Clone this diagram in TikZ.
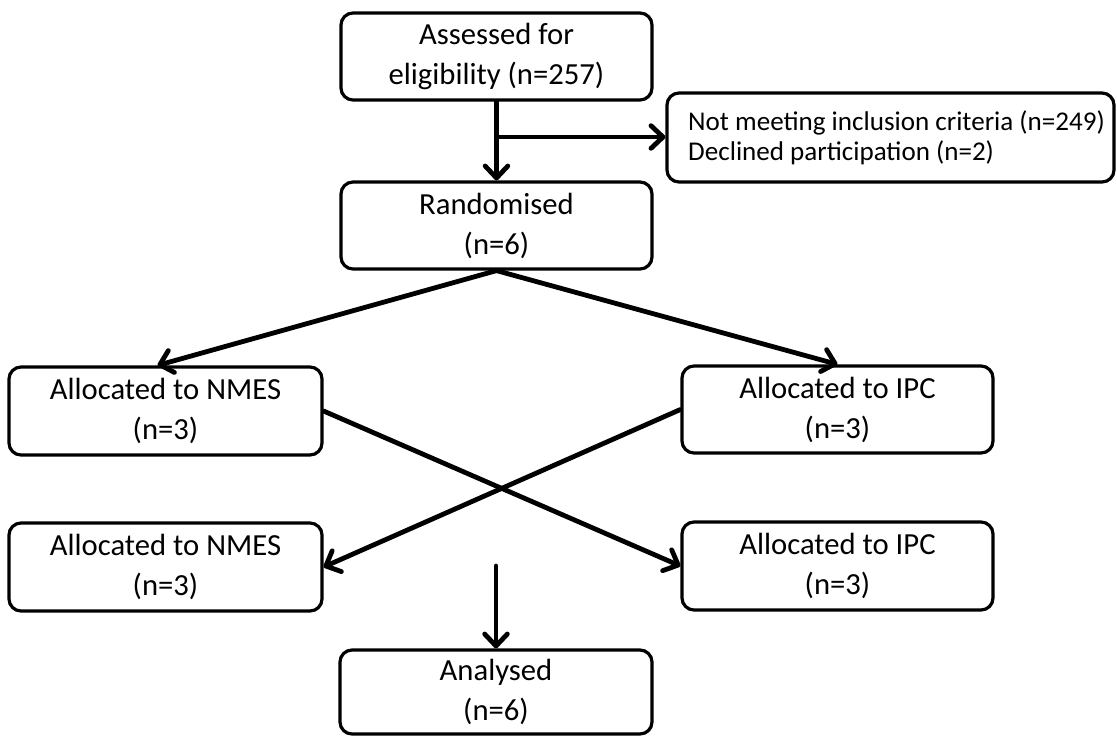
\documentclass[tikz,border=0pt]{standalone}
\usepackage{fontspec}
\setmainfont{Carlito}
\usetikzlibrary{arrows.meta}
\begin{document}
\begin{tikzpicture}[x=0.75pt,y=-0.75pt,
  box/.style={draw, line width=2.4pt, rounded corners=9pt, align=center,
    font=\fontsize{23}{30}\selectfont, inner sep=0pt},
  arr/.style={line width=3.6pt, line cap=round, -{Straight Barb[length=9pt,width=17pt,line cap=round,line join=round]}},
  ]
\useasboundingbox (0,0) rectangle (1117,736);
\node[box, minimum width=233.25pt, minimum height=65.25pt] (assess) at (496.5,56.5) {Assessed for\\eligibility (n=257)};
\node[box, minimum width=233.25pt, minimum height=65.25pt] (rand) at (496.5,225.5) {Randomised\\(n=6)};
\node[box, minimum width=335.25pt, minimum height=66.75pt, align=left, inner xsep=0pt,
  font=\fontsize{20.3}{22.5}\selectfont] (excl) at (890.5,137.5)
  {\hspace*{9pt}Not meeting inclusion criteria (n=249)\\\hspace*{9pt}Declined participation (n=2)};
\node[box, minimum width=234.75pt, minimum height=66pt] (nmesA) at (165.5,411) {Allocated to NMES\\(n=3)};
\node[box, minimum width=233.25pt, minimum height=65.25pt] (ipcA) at (837.5,409.5) {Allocated to IPC\\(n=3)};
\node[box, minimum width=234.75pt, minimum height=66pt] (nmesB) at (165.5,567) {Allocated to NMES\\(n=3)};
\node[box, minimum width=233.25pt, minimum height=66pt] (ipcB) at (837.5,566) {Allocated to IPC\\(n=3)};
\node[box, minimum width=234pt, minimum height=63pt] (anal) at (496,692) {Analysed\\(n=6)};

\coordinate (branch) at (496.5,137);
\coordinate (mid) at (496,566);

\draw[arr] (assess.south) -- (rand.north);
\draw[arr] (branch) -- (branch -| excl.west);
\draw[arr] (rand.south) -- ([xshift=-6pt]nmesA.north);
\draw[arr] (rand.south) -- (ipcA.north);
\draw[arr] (nmesA.east) -- (ipcB.west);
\draw[arr] (ipcA.west) -- (nmesB.east);
\draw[arr] (mid) -- (mid |- anal.north);
\end{tikzpicture}
\end{document}
